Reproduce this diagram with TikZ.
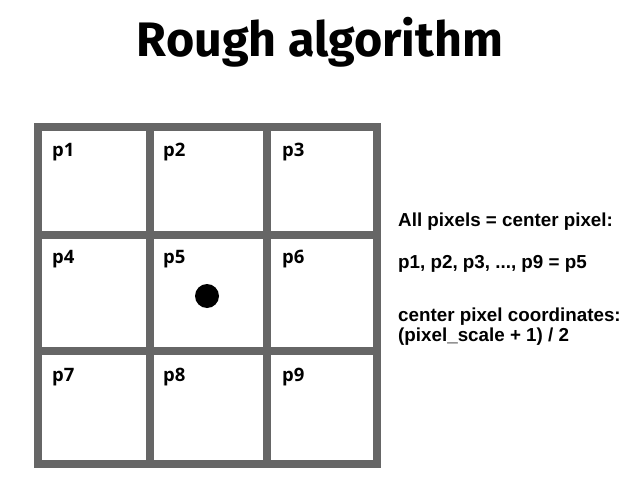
\documentclass[tikz,border=0pt]{standalone}
\usepackage{fontspec}
\setmainfont{Liberation Sans}
\newfontfamily\titlefont{Fira Sans}
\newfontfamily\labelfont{Open Sans}
\definecolor{gridgray}{RGB}{102,102,102}
\begin{document}
\begin{tikzpicture}[x=1pt,y=-1pt,
  gridline/.style={draw=gridgray,line width=8pt},
  celllabel/.style={anchor=base west,inner sep=0pt,font=\labelfont\bfseries\fontsize{18.5}{20}\selectfont},
  sidetext/.style={anchor=base west,inner sep=0pt,font=\bfseries\fontsize{18.8}{22}\selectfont}]
\useasboundingbox (0,0) rectangle (640,503);
\fill[white] (0,0) rectangle (640,503);
% title
\node[anchor=base,inner sep=0pt] (title) at (320,57) {\resizebox{366pt}{!}{\titlefont\bfseries\fontsize{33}{36}\selectfont Rough algorithm}};
% grid
\draw[gridline] (38,126.5) rectangle (376.7,464);
\draw[gridline] (150,126.5) -- (150,464);
\draw[gridline] (267.3,126.5) -- (267.3,464);
\draw[gridline] (38,234.7) -- (376.7,234.7);
\draw[gridline] (38,351.3) -- (376.7,351.3);
% labels
\node[celllabel] (p1) at (52,156) {p1};
\node[celllabel] (p2) at (163,156) {p2};
\node[celllabel] (p3) at (282,156) {p3};
\node[celllabel] (p4) at (52,263.5) {p4};
\node[celllabel] (p5) at (163,263.5) {p5};
\node[celllabel] (p6) at (282,263.5) {p6};
\node[celllabel] (p7) at (52,381) {p7};
\node[celllabel] (p8) at (163,381) {p8};
\node[celllabel] (p9) at (282,381) {p9};
% centre dot
\fill[black] (207,296) circle (12);
% side text
\node[sidetext] (t1) at (398,226.7) {All pixels = center pixel:};
\node[sidetext] (t2) at (398,268.5) {p1, p2, p3, ..., p9 = p5};
\node[sidetext] (t3) at (398,321) {center pixel coordinates:};
\node[sidetext] (t4) at (398,341) {(pixel\_scale + 1) / 2};
\end{tikzpicture}
\end{document}
